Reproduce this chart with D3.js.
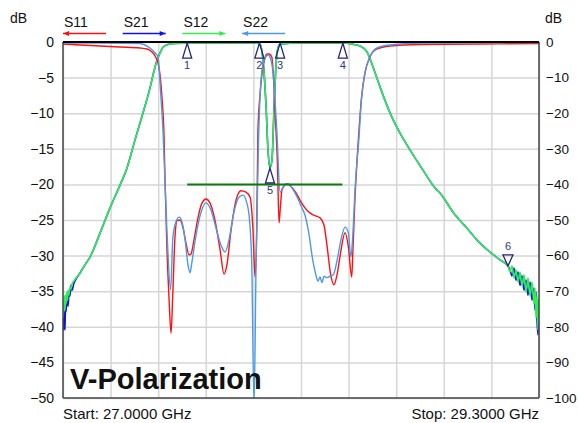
<!DOCTYPE html>
<html>
<head>
<meta charset="utf-8">
<script src="https://cdn.jsdelivr.net/npm/d3@7"></script>
<style>
	body { margin: 0; background: #fff; }
	svg { font-family: "Liberation Sans", Arial, sans-serif; }
</style>
</head>
<body>
<svg id="chart"></svg>
<script>
// frequency in GHz, level in dB
// reflection traces use the left axis (0..-50), transmission the right one (0..-100)
var s11 = [
	[27.000,-0.28],[27.082,-0.42],[27.179,-0.56],[27.275,-0.70],[27.372,-0.84],[27.406,-0.98],
	[27.430,-1.40],[27.445,-1.97],[27.459,-2.95],[27.469,-4.63],[27.478,-7.72],[27.488,-13.1],
	[27.493,-19.4],[27.502,-28.8],[27.512,-35.8],[27.522,-40.9],[27.530,-35.8],[27.541,-27.4],
	[27.551,-25.1],[27.565,-25.0],[27.580,-26.1],[27.594,-28.2],[27.609,-29.9],[27.618,-29.8],
	[27.633,-27.8],[27.652,-24.7],[27.672,-22.6],[27.691,-22.05],[27.710,-22.6],[27.734,-25.0],
	[27.759,-29.2],[27.778,-32.6],[27.792,-31.3],[27.812,-26.4],[27.836,-22.2],[27.860,-20.9],
	[27.884,-21.1],[27.904,-21.8],[27.918,-26.4],[27.928,-33.0],[27.936,-26.4],[27.942,-12.4],
	[27.952,-7.4],[27.962,-4.35],[27.976,-2.25],[27.986,-1.69],[27.996,-1.69],[28.009,-2.11],
	[28.015,-3.93],[28.025,-10.0],[28.036,-17.0],[28.044,-25.4],[28.051,-22.9],[28.058,-20.8],
	[28.081,-19.9],[28.105,-20.4],[28.126,-21.2],[28.145,-22.2],[28.169,-23.3],[28.193,-24.0],
	[28.217,-24.4],[28.242,-24.7],[28.261,-25.7],[28.274,-28.2],[28.293,-32.6],[28.309,-34.1],
	[28.324,-32.7],[28.338,-30.2],[28.363,-26.8],[28.379,-28.8],[28.395,-33.0],[28.401,-29.2],
	[28.411,-21.8],[28.425,-14.7],[28.443,-7.7],[28.459,-4.35],[28.483,-2.1],[28.517,-0.98],
	[28.580,-0.56],[28.725,-0.35],[29.015,-0.28],[29.300,-0.21]
];

var s22 = [
	[27.000,-0.14],[27.179,-0.14],[27.372,-0.21],[27.396,-0.42],[27.420,-0.84],[27.445,-1.54],
	[27.459,-2.1],[27.471,-6.7],[27.483,-12.4],[27.502,-26.4],[27.520,-34.8],[27.531,-27.4],
	[27.549,-25.0],[27.561,-24.6],[27.575,-25.3],[27.590,-27.8],[27.604,-31.3],[27.614,-32.4],
	[27.623,-30.9],[27.643,-27.1],[27.667,-23.9],[27.691,-22.6],[27.715,-23.6],[27.739,-26.1],
	[27.763,-28.5],[27.783,-29.5],[27.802,-27.8],[27.826,-23.9],[27.850,-21.8],[27.870,-21.5],
	[27.888,-22.6],[27.899,-24.3],[27.912,-31.0],[27.923,-51.0],[27.933,-31.0],[27.944,-14.7],
	[27.960,-4.35],[27.976,-2.25],[27.991,-1.83],[28.005,-2.53],[28.015,-4.35],[28.033,-12.4],
	[28.049,-21.1],[28.063,-20.4],[28.087,-19.9],[28.121,-21.2],[28.153,-23.2],[28.169,-24.3],
	[28.185,-26.4],[28.209,-31.0],[28.222,-32.7],[28.232,-33.6],[28.242,-33.0],[28.251,-33.8],
	[28.261,-32.9],[28.274,-33.1],[28.290,-32.9],[28.306,-32.7],[28.322,-31.0],[28.346,-27.4],
	[28.363,-26.0],[28.379,-26.8],[28.391,-30.2],[28.399,-27.8],[28.411,-20.8],[28.421,-16.6],
	[28.427,-14.7],[28.443,-7.7],[28.459,-4.35],[28.483,-2.1],[28.517,-0.84],[28.580,-0.42],
	[28.739,-0.14],[29.300,-0.07]
];

var s21 = [
	[27.0000,-72.5],[27.0024,-80.9],[27.0048,-73.9],[27.0072,-78.1],[27.0097,-80.9],[27.0121,-73.3],
	[27.0145,-75.8],[27.0193,-71.9],[27.0242,-74.2],[27.0290,-70.8],[27.0338,-71.3],[27.0387,-68.3],
	[27.0435,-69.7],[27.0532,-67.7],[27.0628,-66.6],
	[27.0821,-64.9],[27.1063,-62.6],[27.1305,-60.4],[27.1788,-53.7],[27.2271,-46.6],[27.2754,-40.2],
	[27.3092,-35.4],[27.3479,-27.5],[27.3866,-19.9],[27.4204,-12.9],[27.4349,-9.3],[27.4542,-5.1],
	[27.4687,-3.1],[27.4832,-1.5],[27.5074,-0.7],[27.5412,-0.4],[27.6137,-0.3],[27.9277,-0.3],
	[27.9519,-0.6],[27.9664,-5.1],[27.9809,-17.7],[27.9905,-30.3],[28.0002,-35.2],[28.0099,-33.1],
	[28.0195,-19.1],[28.0292,-6.5],[28.0389,-1.7],[28.0485,-0.6],[28.1452,-0.3],[28.3626,-0.3],
	[28.3964,-0.6],[28.4351,-1.1],[28.4689,-2.8],[28.4979,-7.0],[28.5317,-12.6],[28.5800,-19.9],
	[28.6284,-25.6],[28.6767,-30.3],[28.7395,-36.0],[28.7975,-41.0],[28.8217,-42.4],[28.8845,-47.8],
	[28.9521,-52.3],[29.0149,-56.5],[29.0632,-59.0],[29.1115,-61.2],[29.1502,-62.9],
	[29.1599,-64.0],[29.1695,-65.7],[29.1792,-63.5],[29.1889,-66.9],[29.1985,-64.6],[29.2082,-68.3],
	[29.2178,-65.7],[29.2275,-69.7],[29.2372,-66.9],[29.2468,-71.1],[29.2565,-67.4],[29.2662,-72.5],
	[29.2758,-69.1],[29.2806,-75.3],[29.2855,-70.2],[29.2903,-78.1],[29.2952,-82.3],[29.2976,-73.9],
	[29.3000,-78.1]
];

var s12 = [
	[27.0000,-77.5],[27.0024,-72.5],[27.0048,-75.8],[27.0072,-71.3],[27.0097,-75.3],[27.0121,-71.1],
	[27.0145,-73.6],[27.0193,-70.2],[27.0217,-72.5],[27.0242,-69.7],[27.0290,-71.1],[27.0338,-68.8],
	[27.0387,-69.4],[27.0435,-68.0],[27.0532,-67.1],[27.0628,-66.3],
	[27.0821,-64.9],[27.1063,-62.6],[27.1305,-60.4],[27.1788,-53.7],[27.2271,-46.6],[27.2754,-40.2],
	[27.3092,-35.4],[27.3479,-27.5],[27.3866,-19.9],[27.4204,-12.9],[27.4349,-9.3],[27.4542,-5.1],
	[27.4687,-3.1],[27.4832,-1.5],[27.5074,-0.7],[27.5412,-0.4],[27.6137,-0.3],[27.9277,-0.3],
	[27.9519,-0.6],[27.9664,-5.1],[27.9809,-17.7],[27.9905,-30.3],[28.0002,-35.4],[28.0099,-33.1],
	[28.0195,-19.1],[28.0292,-6.5],[28.0389,-1.7],[28.0485,-0.6],[28.1452,-0.3],[28.3626,-0.3],
	[28.3964,-0.6],[28.4351,-1.1],[28.4689,-2.8],[28.4979,-7.0],[28.5317,-12.6],[28.5800,-19.9],
	[28.6284,-25.6],[28.6767,-30.3],[28.7395,-36.0],[28.7975,-41.0],[28.8217,-42.4],[28.8845,-47.8],
	[28.9521,-52.3],[29.0149,-56.5],[29.0632,-59.0],[29.1115,-61.2],[29.1502,-62.9],
	[29.1599,-64.6],[29.1695,-62.9],[29.1792,-66.3],[29.1889,-64.0],[29.1985,-67.4],[29.2082,-64.6],
	[29.2178,-68.5],[29.2275,-65.4],[29.2372,-70.2],[29.2468,-66.3],[29.2565,-71.3],[29.2662,-67.4],
	[29.2758,-73.6],[29.2806,-69.1],[29.2855,-77.5],[29.2903,-71.1],[29.2952,-80.9],[29.2976,-72.5],
	[29.3000,-75.8]
];

// limit line on the left axis
var limitLine = [[27.60, -20], [28.35, -20]];

// markers sit on the transmission trace (right axis)
var markerIds  = ["1", "2", "3", "4", "5", "6"];
var markerFreq = [27.600, 27.949, 28.049, 28.352, 28.000, 29.150];
var markerDb   = [-0.3, -0.3, -0.3, -0.3, -35.4, -62.9];
var markerDown = [false, false, false, false, false, true];

var leftTicks  = d3.range(0, -51, -5);
var rightTicks = d3.range(0, -101, -10);
var freqGrid   = d3.range(0, 11).map(function(i) { return 27 + i * 0.23; });

var legendNames  = ["S11", "S21", "S12", "S22"];
var legendColors = ["#ff1010", "#1010ee", "#30ee50", "#4a9aea"];
var legendLeft   = [true, false, false, true];

var W = 578, H = 423;
var margin = { top: 42, right: 39, bottom: 25, left: 63 };
var width = W - margin.left - margin.right;
var height = H - margin.top - margin.bottom;

var svg = d3.select("#chart").attr("width", W).attr("height", H);
svg.append("rect").attr("width", W).attr("height", H).attr("fill", "#fff");

var g = svg.append("g").attr("transform", "translate(" + margin.left + "," + margin.top + ")");

var x = d3.scaleLinear().domain([27, 29.3]).range([0, width]);
var yL = d3.scaleLinear().domain([-50, 0]).range([height, 0]);
var yR = d3.scaleLinear().domain([-100, 0]).range([height, 0]);

// grid
var gy = g.append("g").call(d3.axisLeft(yL).tickValues(leftTicks).tickSize(-width).tickFormat(""));
var gx = g.append("g").attr("transform", "translate(0," + height + ")")
	.call(d3.axisBottom(x).tickValues(freqGrid).tickSize(-height).tickFormat(""));
[gy, gx].forEach(function(s) {
	s.select(".domain").remove();
	s.selectAll("line").attr("stroke", "#d6d6d6").attr("stroke-width", 1.5);
});

// tick labels
var axL = g.append("g").call(d3.axisLeft(yL).tickValues(leftTicks).tickSize(0).tickPadding(9));
var axR = g.append("g").attr("transform", "translate(" + width + ",0)")
	.call(d3.axisRight(yR).tickValues(rightTicks).tickSize(0).tickPadding(7));
[axL, axR].forEach(function(s) {
	s.select(".domain").remove();
	s.selectAll("text").attr("font-size", 14).attr("fill", "#111")
		.attr("font-family", "Liberation Sans, Arial, sans-serif");
});
axR.selectAll("text").attr("font-size", 13.5);

g.append("clipPath").attr("id", "plotClip")
	.append("rect").attr("x", 0).attr("y", -2).attr("width", width).attr("height", height + 2);

var plot = g.append("g").attr("clip-path", "url(#plotClip)");

var lineR = d3.line().x(function(d) { return x(d[0]); }).y(function(d) { return yR(d[1]); }).curve(d3.curveMonotoneX);
var lineL = d3.line().x(function(d) { return x(d[0]); }).y(function(d) { return yL(d[1]); }).curve(d3.curveMonotoneX);

plot.append("path").datum(s21).attr("d", lineR).attr("fill", "none").attr("stroke", legendColors[1]).attr("stroke-width", 1.6);
plot.append("path").datum(s12).attr("d", lineR).attr("fill", "none").attr("stroke", legendColors[2]).attr("stroke-width", 1.6);
plot.append("path").datum(s11).attr("d", lineL).attr("fill", "none").attr("stroke", legendColors[0]).attr("stroke-width", 1.4);
plot.append("path").datum(s22).attr("d", lineL).attr("fill", "none").attr("stroke", legendColors[3]).attr("stroke-width", 1.4);

plot.append("path").datum(limitLine)
	.attr("d", d3.line().x(function(d) { return x(d[0]); }).y(function(d) { return yL(d[1]); }))
	.attr("stroke", "#0a7a0a").attr("stroke-width", 2);

// frame
g.append("line").attr("x1", 0).attr("x2", 0).attr("y1", 0).attr("y2", height).attr("stroke", "#444").attr("stroke-width", 1.5);
g.append("line").attr("x1", width).attr("x2", width).attr("y1", 0).attr("y2", height).attr("stroke", "#444").attr("stroke-width", 1.5);
g.append("line").attr("x1", 0).attr("x2", width).attr("y1", height).attr("y2", height).attr("stroke", "#444").attr("stroke-width", 1.5);
g.append("line").attr("x1", 0).attr("x2", width).attr("y1", 0).attr("y2", 0).attr("stroke", "#000").attr("stroke-width", 2);

// markers
var mk = g.selectAll(".marker").data(markerIds).enter().append("g")
	.attr("class", "marker")
	.attr("transform", function(d, i) { return "translate(" + x(markerFreq[i]) + "," + yR(markerDb[i]) + ")"; });
mk.append("path")
	.attr("d", function(d, i) { return markerDown[i] ? "M0,0L-5,-11L5,-11Z" : "M0,0L-4.5,15L4.5,15Z"; })
	.attr("fill", "none").attr("stroke", "#24247a").attr("stroke-width", 1.3);
mk.append("text")
	.attr("y", function(d, i) { return markerDown[i] ? -16 : 26; })
	.attr("text-anchor", "middle").attr("font-size", 11).attr("fill", "#33338a")
	.text(function(d) { return d; });

// legend
var lg = svg.selectAll(".legend").data(legendNames).enter().append("g")
	.attr("class", "legend")
	.attr("transform", function(d, i) { return "translate(" + (63 + i * 59.7) + ",0)"; });
lg.append("text").attr("x", 1).attr("y", 27).attr("font-size", 14).attr("fill", "#111").text(function(d) { return d; });
lg.append("line").attr("x1", 0).attr("x2", 43).attr("y1", 33.5).attr("y2", 33.5)
	.attr("stroke", function(d, i) { return legendColors[i]; }).attr("stroke-width", 1.3);
lg.append("path")
	.attr("d", function(d, i) { return legendLeft[i] ? "M0,33.5L6,31L6,36Z" : "M43,33.5L37,31L37,36Z"; })
	.attr("fill", function(d, i) { return legendColors[i]; });

svg.append("text").attr("x", 10).attr("y", 23).attr("font-size", 14).attr("fill", "#111").text("dB");
svg.append("text").attr("x", 545).attr("y", 23).attr("font-size", 14).attr("fill", "#111").text("dB");

svg.append("text").attr("x", 70).attr("y", 389).attr("font-size", 29).attr("font-weight", "bold")
	.attr("fill", "#111").text("V-Polarization");

svg.append("text").attr("x", 63).attr("y", 419).attr("font-size", 15).attr("fill", "#111").text("Start: 27.0000 GHz");
svg.append("text").attr("x", 539).attr("y", 419).attr("text-anchor", "end").attr("font-size", 15).attr("fill", "#111").text("Stop: 29.3000 GHz");
</script>
</body>
</html>
